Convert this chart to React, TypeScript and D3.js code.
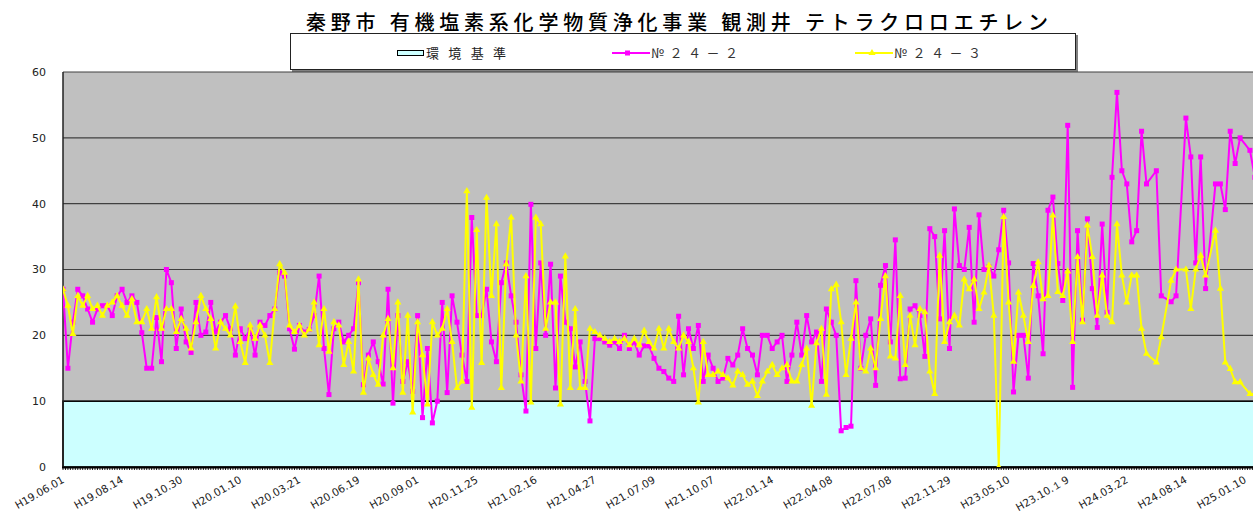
import { line, scaleLinear, symbol, symbolTriangle } from "d3";

const TITLE = "秦野市 有機塩素系化学物質浄化事業 観測井 テトラクロロエチレン";

const xLabels = [
  "H19.06.01", "H19.08.14", "H19.10.30", "H20.01.10", "H20.03.21", "H20.06.19", "H20.09.01",
  "H20.11.25", "H21.02.16", "H21.04.27", "H21.07.09", "H21.10.07", "H22.01.14", "H22.04.08",
  "H22.07.08", "H22.11.29", "H23.05.10", "H23.10.１9", "H24.03.22", "H24.08.14", "H25.01.10"
];
// one label every LABEL_STEP samples
const LABEL_STEP = 12;

const yTicks = [0, 10, 20, 30, 40, 50, 60];
const standardLevel = 10;

// №２４－２
const well24_2: (number | null)[] = [
  27, 15, 22, 27, 26, 24, 22, 24, 24.5, 24.5,
  23, 26, 27, 25, 26, 25, 20.4, 15, 15, 22.7,
  16, 30, 28, 18, 24, 19, 17.4, 25, 20, 20.5,
  25, 20.5, 22, 23, 21, 17, 21, 19.5, 21, 17,
  22, 21.5, 23, 24, 29.5, 29, 21, 17.9, 21.5, 20.5,
  20.9, 23, 29, 18, 11, 21, 22, 19, 20, 21,
  28, 12.5, 17, 19, 16, 12.6, 27, 9.7, 23, 13,
  16, 11.5, 23, 7.5, 18, 6.7, 10, 25, 11.3, 26,
  22, 17, 13, 37.9, 23, 23, 27, 19, 16, 28,
  31, 26, 22, 14, 8.5, 39.9, 18, 31, 20, 30.8,
  12, 29, 22, 21, 15.2, 19, 13, 7, 19.5, 19.5,
  19, 18.5, 19, 18, 20, 18, 19, 17, 18.4, 18.4,
  16.5, 15, 14.5, 13.5, 13, 22.9, 14, 21, 18, 21.5,
  13, 17, 15, 13, 13.5, 16.5, 15.5, 17, 21, 18,
  17, 14, 20, 20, 18, 19, 20, 13, 17, 22,
  17, 23, 19, 20.5, 13, 24, 22, 20, 5.5, 6,
  6.2, 28.3, 15, 20, 22.5, 12.4, 27.6, 30.6, 19, 34.5,
  13.4, 13.5, 24, 24.5, 23, 16.8, 36.2, 35, 22.5, 35.9,
  18, 39.2, 30.6, 30, 36.4, 22, 38.3, 30, 30.4, 29,
  33, 39, 31, 11.4, 20, 20, 13.5, 30.9, 26, 17.2,
  39, 41, 30.9, 25.3, 51.9, 12.1, 35.9, 22.3, 37.7, 27.1,
  21.2, 36.9, 23.5, 44, 56.9, 45, 43, 34.2, 35.9, 51,
  43, null, 45, 26, null, 25.1, 26, null, 53, 47.1,
  31, 47.1, 27.1, null, 43, 43, 39.1, 51, 46.1, 50,
  null, 48.1, 44
];

// №２４－３
const well24_3: (number | null)[] = [
  27, 24.5, 20.2, 26, 24.5, 26, 24, 24.5, 23, 24.5,
  25, 26, 24.5, 23, 25.5, 22, 22, 24, 21, 25.8,
  21, 24, 24, 20.5, 22.5, 21, 18, 22, 26, 24,
  22.5, 18, 22, 21, 20, 24.4, 19, 15.8, 21.5, 19.5,
  21.5, 20, 15.8, 24, 30.8, 29.5, 21.5, 20.5, 21.5, 20,
  20.9, 25, 18.5, 24, 17.5, 22, 21.5, 15.5, 19, 14.5,
  28.5, 11.3, 16.5, 14, 12.5, 20, 22.5, 15, 25, 11.3,
  23, 8.3, 22, 17, 9.5, 22, 20, 21, 24, 19,
  12, 13, 41.9, 9, 36, 15.8, 40.9, 26, 36.9, 12,
  30.8, 37.9, 20, 13, 29, 9.8, 37.9, 36.9, 21, 25,
  25, 9.5, 32, 12, 24, 12, 12, 21, 20.5, 20,
  19.5, 19, 19.5, 19, 19.5, 18.5, 19.5, 18.5, 20.7, 19,
  18, 21, 18, 21, 19, 18, 20, 19, 15, 9.8,
  19, 14, 14, 14.5, 14, 13.5, 12.4, 14.5, 14, 12.5,
  13, 10.8, 13, 14.5, 15.5, 14, 15, 15.5, 13, 13,
  15.5, 18, 9.3, 18.8, 21, 11, 27, 27.7, 22, 14,
  19.5, 25, 15, 14.5, 18, 15, 22.5, 29, 16.8, 16.5,
  26, 15.5, 23, 18.5, 24, 23.5, 14.5, 11.1, 32.1, 19,
  22, 23, 21.5, 28.5, 27, 28.5, 24, 26.5, 30.6, 23,
  0, 38, 25, 16, 26.5, 23, 19, 27.5, 31.1, 25.5,
  26, 38.2, 26.6, 26, 29.7, 19, 31.9, 22, 36.7, 31.9,
  23, 29.1, 23, 22, 36.9, 29.1, 25, 29.1, 29.1, 21,
  17.2, null, 15.9, 19.7, null, 28.3, 30, null, 30, 24,
  30, 32.1, 29.1, null, 35.9, 27.1, 15.9, 14.9, 12.9, 12.9,
  null, 11.1, 11.1
];

const WIDTH = 1253;
const HEIGHT = 517;
const PLOT_LEFT = 63;
const PLOT_TOP = 72;
const PLOT_BOTTOM = 467;
const PLOT_RIGHT = 1275;
const LAST_LABEL_X = 1245;

const MAGENTA = "#FF00FF";
const YELLOW = "#FFFF00";
const CJK = "'Noto Sans CJK JP', 'Noto Sans CJK SC', sans-serif";
const AXIS_FONT = "'DejaVu Sans', Verdana, sans-serif";

type Pt = { i: number; v: number };

function toPoints(values: (number | null)[]): Pt[] {
  return values
    .map((v, i) => ({ i, v }))
    .filter((d): d is Pt => typeof d.v === "number");
}

export default function App() {
  const x = scaleLinear()
    .domain([0, (xLabels.length - 1) * LABEL_STEP])
    .range([PLOT_LEFT, LAST_LABEL_X]);
  const y = scaleLinear().domain([0, 60]).range([PLOT_BOTTOM, PLOT_TOP]);

  const path = line<Pt>()
    .x((d) => x(d.i))
    .y((d) => y(d.v));

  const pts2 = toPoints(well24_2);
  const pts3 = toPoints(well24_3);
  const tri = symbol().type(symbolTriangle).size(22)() ?? "";
  const sampleCount = Math.max(well24_2.length, well24_3.length);

  return (
    <div style={{ position: "fixed", left: 0, top: 0, width: WIDTH, height: HEIGHT, overflow: "hidden", background: "#fff" }}>
      <svg width={WIDTH} height={HEIGHT} style={{ display: "block" }}>
        <defs>
          <clipPath id="plot-clip">
            <rect x={PLOT_LEFT} y={PLOT_TOP - 6} width={PLOT_RIGHT - PLOT_LEFT} height={PLOT_BOTTOM - PLOT_TOP + 6} />
          </clipPath>
        </defs>

        {/* title */}
        <text
          x={306}
          y={30}
          fontFamily={CJK}
          fontSize={20}
          fontWeight={500}
          textLength={742}
          lengthAdjust="spacing"
          fill="#000"
        >
          {TITLE}
        </text>

        {/* legend */}
        <rect x={292} y={35} width={786} height={37} fill="#808080" />
        <rect x={290.5} y={33.5} width={785} height={36} fill="#fff" stroke="#222" strokeWidth={1} />
        <rect x={397.5} y={50.5} width={26} height={5} fill="#CCFFFF" stroke="#000" strokeWidth={1} />
        <text x={426} y={58} fontFamily={CJK} fontSize={13} textLength={80} lengthAdjust="spacing" fill="#222">
          環境基準
        </text>
        <line x1={612} x2={650} y1={53} y2={53} stroke={MAGENTA} strokeWidth={2} />
        <rect x={625} y={50.5} width={5} height={5} fill={MAGENTA} />
        <text x={651} y={58} fontFamily={CJK} fontSize={13} textLength={87} lengthAdjust="spacing" fill="#333">
          №２４－２
        </text>
        <line x1={855} x2={893} y1={53} y2={53} stroke={YELLOW} strokeWidth={2} />
        <path d={tri} transform={`translate(872,53)`} fill={YELLOW} />
        <text x={894} y={58} fontFamily={CJK} fontSize={13} textLength={87} lengthAdjust="spacing" fill="#333">
          №２４－３
        </text>

        {/* plot background */}
        <rect x={PLOT_LEFT} y={PLOT_TOP} width={PLOT_RIGHT - PLOT_LEFT} height={PLOT_BOTTOM - PLOT_TOP} fill="#C0C0C0" />
        {yTicks
          .filter((t) => t > standardLevel)
          .map((t) => (
            <line key={t} x1={PLOT_LEFT} x2={PLOT_RIGHT} y1={y(t)} y2={y(t)} stroke="#404040" strokeWidth={1.2} />
          ))}

        {/* environmental standard area */}
        <rect
          x={PLOT_LEFT}
          y={y(standardLevel)}
          width={PLOT_RIGHT - PLOT_LEFT}
          height={PLOT_BOTTOM - y(standardLevel)}
          fill="#CCFFFF"
          stroke="#000"
          strokeWidth={1.6}
        />

        {/* axes */}
        <line x1={PLOT_LEFT} x2={PLOT_LEFT} y1={PLOT_TOP} y2={PLOT_BOTTOM} stroke="#222" strokeWidth={1.5} />
        <line x1={PLOT_LEFT - 1} x2={PLOT_RIGHT} y1={PLOT_BOTTOM + 0.5} y2={PLOT_BOTTOM + 0.5} stroke="#000" strokeWidth={2} />
        {Array.from({ length: sampleCount * 2 }, (_, k) => (
          <line
            key={k}
            x1={x(k / 2)}
            x2={x(k / 2)}
            y1={PLOT_BOTTOM}
            y2={PLOT_BOTTOM + 3}
            stroke="#000"
            strokeWidth={0.9}
          />
        ))}

        {yTicks.map((t) => (
          <text
            key={t}
            x={46}
            y={y(t)}
            dy="0.35em"
            textAnchor="end"
            fontFamily={AXIS_FONT}
            fontSize={11}
            fill="#222"
          >
            {t}
          </text>
        ))}

        {xLabels.map((label, k) => {
          const tx = x(k * LABEL_STEP);
          return (
            <text
              key={label}
              transform={`translate(${tx + 2},${PLOT_BOTTOM + 15}) rotate(-30)`}
              textAnchor="end"
              fontFamily={AXIS_FONT}
              fontSize={10.5}
              fill="#222"
            >
              {label}
            </text>
          );
        })}

        {/* series */}
        <g clipPath="url(#plot-clip)">
          <path d={path(pts2) ?? ""} fill="none" stroke={MAGENTA} strokeWidth={2} strokeLinejoin="round" />
          {pts2.map((d) => (
            <rect key={d.i} x={x(d.i) - 2.5} y={y(d.v) - 2.5} width={5} height={5} fill={MAGENTA} />
          ))}
          <path d={path(pts3) ?? ""} fill="none" stroke={YELLOW} strokeWidth={2} strokeLinejoin="round" />
          {pts3.map((d) => (
            <path key={d.i} d={tri} transform={`translate(${x(d.i)},${y(d.v)})`} fill={YELLOW} />
          ))}
        </g>
      </svg>
    </div>
  );
}
